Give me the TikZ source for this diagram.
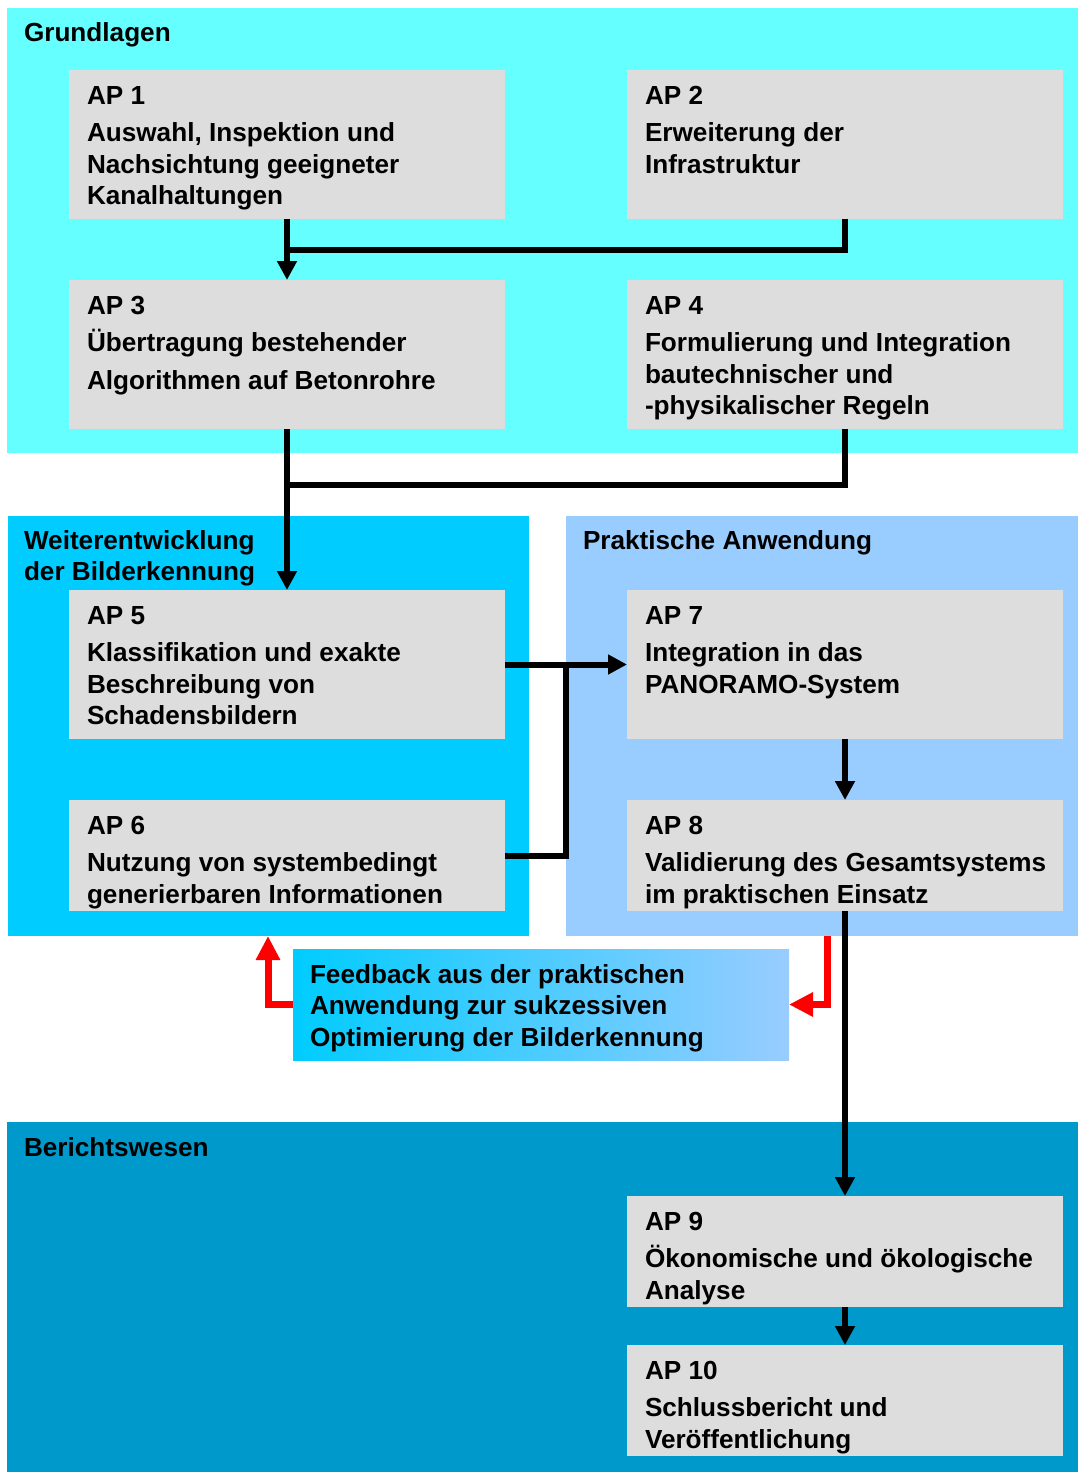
\documentclass[tikz,border=0pt]{standalone}
\usepackage{fontspec}
\setmainfont{Liberation Sans}
\usetikzlibrary{calc,arrows.meta}
\definecolor{cGrund}{HTML}{66FFFF}
\definecolor{cWeiter}{HTML}{00CCFF}
\definecolor{cPrakt}{HTML}{99CCFF}
\definecolor{cBericht}{HTML}{0099CC}
\definecolor{cBox}{HTML}{DDDDDD}
\newcommand\aplines[1]{\begin{tabular}[t]{@{}l@{}}#1\end{tabular}}
\begin{document}
\begin{tikzpicture}[x=1pt,y=-1pt,
  panel/.style={anchor=north west, inner sep=0pt, outer sep=0pt},
  apbox/.style={anchor=north west, fill=cBox, inner sep=0pt, outer sep=0pt,
                minimum width=436pt, minimum height=149pt},
  txt/.style={anchor=base west, inner sep=0pt, outer sep=0pt,
              font=\bfseries\fontsize{26.15}{31.5}\selectfont},
  ln/.style={line width=6pt},
  blk/.style={line width=6pt, -{Triangle[width=19pt,length=19pt]}},
  redarr/.style={draw=red, line width=7pt, -{Triangle[width=23pt,length=24pt]}}]
\useasboundingbox (0,0) rectangle (1078,1472);

% work-package groups
\node[panel, fill=cGrund,   minimum width=1071pt, minimum height=445pt] (grund)   at (7,8) {};
\node[panel, fill=cWeiter,  minimum width=521pt,  minimum height=420pt] (weiter)  at (8,516) {};
\node[panel, fill=cPrakt,   minimum width=512pt,  minimum height=420pt] (prakt)   at (566,516) {};
\node[panel, fill=cBericht, minimum width=1071pt, minimum height=350pt] (bericht) at (7,1122) {};
\node[panel, left color=cWeiter, right color=cPrakt, minimum width=496pt, minimum height=111pt] (fb) at (293,949) {};

% work packages
\node[apbox] (ap1) at (69,70) {};
\node[apbox] (ap2) at (627,70) {};
\node[apbox] (ap3) at (69,280) {};
\node[apbox] (ap4) at (627,280) {};
\node[apbox] (ap5) at (69,590) {};
\node[apbox, minimum height=111pt] (ap6) at (69,800) {};
\node[apbox] (ap7) at (627,590) {};
\node[apbox, minimum height=111pt] (ap8) at (627,800) {};
\node[apbox, minimum height=111pt] (ap9) at (627,1196) {};
\node[apbox, minimum height=111pt] (ap10) at (627,1345) {};

% connectors
\draw[blk] (ap1.south) -- (ap3.north);
\draw[ln] (ap2.south) |- ($(ap1.south)!0.5!(ap3.north)$);
\coordinate (j2) at ($(ap3.south)+(0,56)$);
\draw[blk] (ap3.south) -- (ap5.north);
\draw[ln] (ap4.south) |- (j2);
\coordinate (j3) at ($(ap5.east)!0.5!(ap7.west)$);
\draw[blk] (ap5.east) -- (ap7.west);
\draw[ln] (ap6.east) -| (j3);
\draw[blk] (ap7.south) -- (ap8.north);
\draw[blk] (ap8.south) -- (ap9.north);
\draw[blk] (ap9.south) -- (ap10.north);

% feedback loop
\coordinate (fbin) at (268,936);
\coordinate (fbout) at (827,936);
\draw[redarr] (fb.west) -| (fbin);
\draw[redarr] (fbout) |- (fb.east);

% group titles
\node[txt] (tgrund) at (24,42) {Grundlagen};
\node[txt] (tweiter) at (24,549) {\aplines{Weiterentwicklung\\der Bilderkennung}};
\node[txt] (tprakt) at (583,549) {Praktische Anwendung};
\node[txt] (tbericht) at (24,1156) {Berichtswesen};
\node[txt] (tfb) at (310,983) {\aplines{Feedback aus der praktischen\\Anwendung zur sukzessiven\\Optimierung der Bilderkennung}};

% package texts
\node[txt] (t1) at ($(ap1.north west)+(18,34)$) {\aplines{AP 1\\[6pt]Auswahl, Inspektion und\\Nachsichtung geeigneter\\Kanalhaltungen}};
\node[txt] (t2) at ($(ap2.north west)+(18,34)$) {\aplines{AP 2\\[6pt]Erweiterung der\\Infrastruktur}};
\node[txt] (t3) at ($(ap3.north west)+(18,34)$) {\aplines{AP 3\\[6pt]Übertragung bestehender\\[6pt]Algorithmen auf Betonrohre}};
\node[txt] (t4) at ($(ap4.north west)+(18,34)$) {\aplines{AP 4\\[6pt]Formulierung und Integration\\bautechnischer und\\-physikalischer Regeln}};
\node[txt] (t5) at ($(ap5.north west)+(18,34)$) {\aplines{AP 5\\[6pt]Klassifikation und exakte\\Beschreibung von\\Schadensbildern}};
\node[txt] (t6) at ($(ap6.north west)+(18,34)$) {\aplines{AP 6\\[6pt]Nutzung von systembedingt\\generierbaren Informationen}};
\node[txt] (t7) at ($(ap7.north west)+(18,34)$) {\aplines{AP 7\\[6pt]Integration in das\\PANORAMO-System}};
\node[txt] (t8) at ($(ap8.north west)+(18,34)$) {\aplines{AP 8\\[6pt]Validierung des Gesamtsystems\\im praktischen Einsatz}};
\node[txt] (t9) at ($(ap9.north west)+(18,34)$) {\aplines{AP 9\\[6pt]Ökonomische und ökologische\\Analyse}};
\node[txt] (t10) at ($(ap10.north west)+(18,34)$) {\aplines{AP 10\\[6pt]Schlussbericht und\\Veröffentlichung}};
\end{tikzpicture}
\end{document}
